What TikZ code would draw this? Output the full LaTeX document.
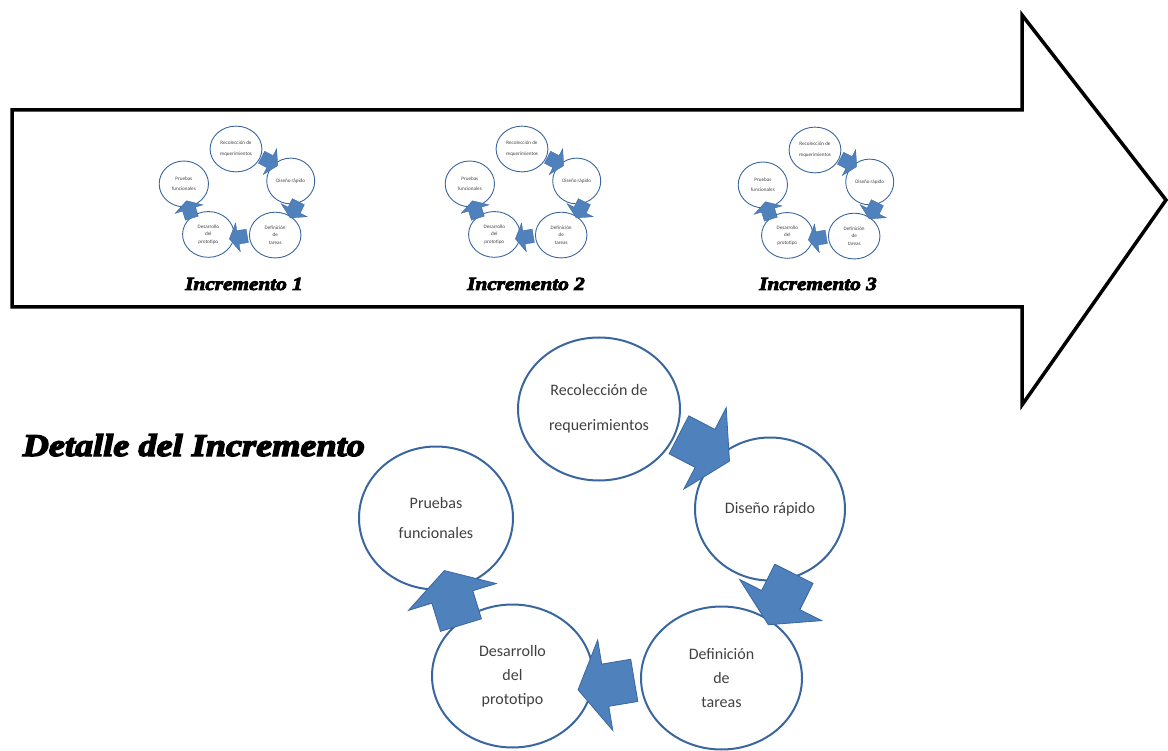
\documentclass[tikz,border=0pt]{standalone}
\usepackage{fontspec}
\usepackage{tikz}
\usetikzlibrary{shapes.geometric}
\usetikzlibrary{shapes.arrows}
\newfontfamily\calibri{Carlito}
\newfontfamily\titulo[UprightFont=* Bold Italic,FakeBold=4.5,FakeStretch=1.15]{Liberation Serif}
\definecolor{azulborde}{HTML}{3A66A0}
\definecolor{azulflecha}{HTML}{4F81BD}
\definecolor{gristexto}{HTML}{404040}

\newcommand{\ciclo}[1]{%
    \node[fase, minimum width=162pt] (#1rec) at (0,0) {Recolección de\\[11pt]requerimientos};
    \node[fase, minimum width=150pt] (#1dis) at (171,-100) {Diseño rápido};
    \node[fase] (#1def) at (122.5,-269) {Definición\\de\\tareas};
    \node[fase] (#1des) at (-86.5,-267) {Desarrollo\\del\\prototipo};
    \node[fase, minimum width=154pt] (#1pru) at (-163,-109) {Pruebas\\[6pt]funcionales};
    \node[flecha, rotate=-27.5] (#1f1) at (99.5,-36) {};
    \node[flecha, rotate=-116.6] (#1f2) at (185,-184.5) {};
    \node[flecha, rotate=189.5] (#1f3) at (13.5,-275) {};
    \node[flecha, rotate=107] (#1f4) at (-144.5,-195) {};
}

\begin{document}
\begin{tikzpicture}[x=1pt,y=1pt,
    fase/.style={ellipse, draw=azulborde, line width=2pt, minimum width=161pt, minimum height=143pt,
        inner sep=0pt, align=center, text=gristexto, font=\calibri\fontsize{16}{24}\selectfont},
    flecha/.style={single arrow, fill=azulflecha, draw=azulborde, line width=0.8pt, inner xsep=0pt,
        inner ysep=21pt, minimum height=57pt, single arrow head extend=24.5pt, single arrow tip angle=118},
    incr/.style={font=\titulo\fontsize{18.5}{20}\selectfont, inner sep=0pt}]
    \useasboundingbox (0,0) rectangle (1168,-751);
    \draw[line width=3.5pt, line join=miter] (12,-110) -- (1022,-110) -- (1022,-15) -- (1166,-200)
        -- (1022,-405) -- (1022,-307) -- (12,-307) -- cycle;
    \begin{scope}[shift={(236,-149)}, scale=0.32, transform shape,
        fase/.append style={line width=0.9pt}, flecha/.append style={line width=0.3pt}]
        \ciclo{a}
    \end{scope}
    \begin{scope}[shift={(522,-149)}, scale=0.32, transform shape,
        fase/.append style={line width=0.9pt}, flecha/.append style={line width=0.3pt}]
        \ciclo{b}
    \end{scope}
    \begin{scope}[shift={(815,-150)}, scale=0.32, transform shape,
        fase/.append style={line width=0.9pt}, flecha/.append style={line width=0.3pt}]
        \ciclo{c}
    \end{scope}
    \node[incr, anchor=base] (inc1) at (244,-290) {Incremento 1};
    \node[incr, anchor=base] (inc2) at (526,-290) {Incremento 2};
    \node[incr, anchor=base] (inc3) at (818,-290) {Incremento 3};
    \begin{scope}[shift={(599,-409)}]
        \ciclo{g}
    \end{scope}
    \node[font=\titulo\fontsize{31.5}{33}\selectfont, inner sep=0pt, anchor=base east] (det) at (365,-456) {Detalle del Incremento};
\end{tikzpicture}
\end{document}
